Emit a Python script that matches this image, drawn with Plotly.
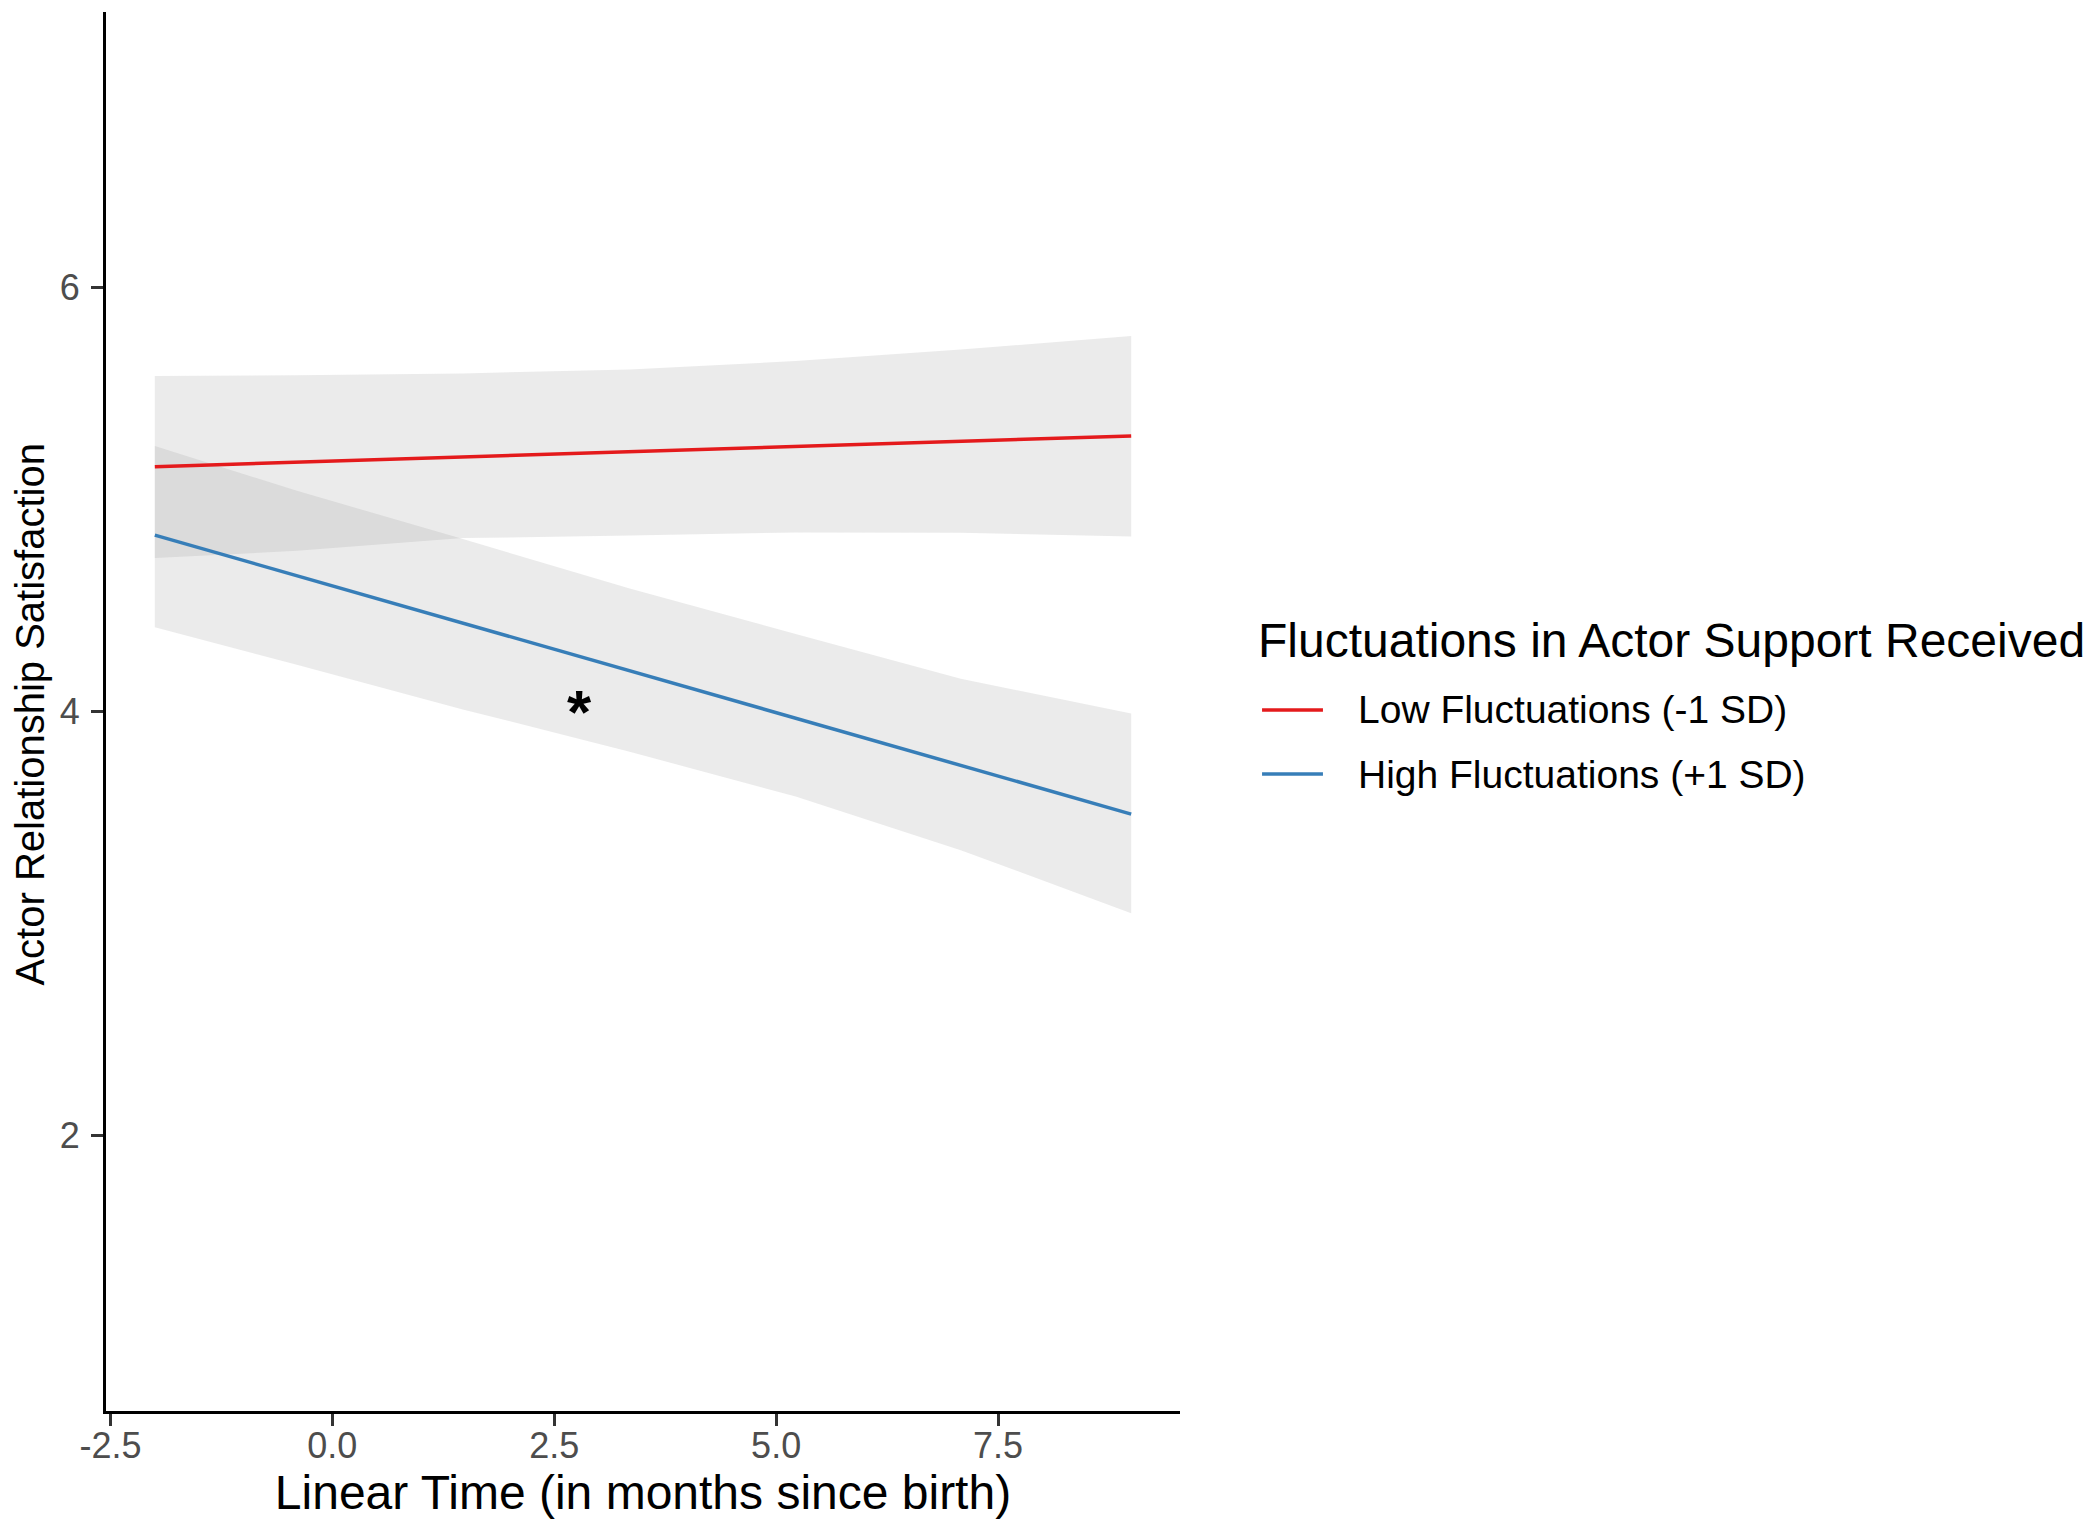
import plotly.graph_objects as go

# data
x_fit = [-2, 9]
low_fit = [5.155, 5.30]
high_fit = [4.832, 3.516]

x_band = [-2, -0.4, 1.47, 3.35, 5.22, 7.08, 9]
low_upper = [5.583, 5.586, 5.595, 5.614, 5.653, 5.708, 5.771]
low_lower = [4.724, 4.758, 4.818, 4.830, 4.845, 4.843, 4.826]
high_upper = [5.253, 5.041, 4.814, 4.580, 4.366, 4.155, 3.990]
high_lower = [4.398, 4.220, 4.010, 3.810, 3.599, 3.346, 3.048]

labels = ["Low Fluctuations (-1 SD)", "High Fluctuations (+1 SD)"]
colors = ["#E41A1C", "#377EB8"]
legend_title = "Fluctuations in Actor Support Received"

x_ticks = [-2.5, 0.0, 2.5, 5.0, 7.5]
x_ticktext = ["-2.5", "0.0", "2.5", "5.0", "7.5"]
y_ticks = [2, 4, 6]

star_x, star_y = 2.79, 4.05

font = "Liberation Sans, Arial, sans-serif"
band_fill = "rgba(153,153,153,0.2)"

fig = go.Figure()

for up, lo in [(low_upper, low_lower), (high_upper, high_lower)]:
    fig.add_trace(go.Scatter(
        x=x_band + x_band[::-1], y=up + lo[::-1],
        fill="toself", fillcolor=band_fill, mode="none",
        showlegend=False, hoverinfo="skip"))

for y, name, c in [(low_fit, labels[0], colors[0]), (high_fit, labels[1], colors[1])]:
    fig.add_trace(go.Scatter(x=x_fit, y=y, mode="lines", name=name,
                             line=dict(color=c, width=3.5), showlegend=False))

fig.add_annotation(x=star_x, y=star_y, text="<b>*</b>", showarrow=False,
                   font=dict(size=62, color="black", family=font), yshift=-11)

# y title as an annotation so it can sit closer to the edge
fig.add_annotation(xref="paper", yref="paper", x=-0.0705, y=0.498,
                   text="Actor Relationship Satisfaction", textangle=-90,
                   showarrow=False, xanchor="center", yanchor="middle",
                   font=dict(size=40, color="black", family=font))

# legend drawn by hand so the spacing matches the ggplot guide
fig.add_annotation(xref="paper", yref="paper", x=1.0708, y=0.5511, text=legend_title,
                   showarrow=False, xanchor="left", yanchor="middle",
                   font=dict(size=48, color="black", family=font))
for i, (name, c) in enumerate(zip(labels, colors)):
    ly = 0.5011 - i * 0.0458
    fig.add_shape(type="line", xref="paper", yref="paper", x0=1.0764, x1=1.1331,
                  y0=ly, y1=ly, line=dict(color=c, width=3.5))
    fig.add_annotation(xref="paper", yref="paper", x=1.1639, y=ly, text=name,
                       showarrow=False, xanchor="left", yanchor="middle",
                       font=dict(size=39, color="black", family=font))

axis_common = dict(showgrid=False, zeroline=False, showline=True, linecolor="black",
                   linewidth=3, ticks="outside", ticklen=12, tickwidth=3,
                   tickcolor="#333333", automargin=False,
                   tickfont=dict(size=36, color="#4D4D4D", family=font))

fig.update_xaxes(range=[-2.55, 9.55], tickvals=x_ticks, ticktext=x_ticktext,
                 ticklabelstandoff=-11,
                 title=dict(text="Linear Time (in months since birth)",
                            font=dict(size=48, color="black", family=font), standoff=0),
                 **axis_common)
fig.update_yaxes(range=[0.7, 7.3], tickvals=y_ticks, ticklabelstandoff=4,
                 **axis_common)

# the page body adds 8px, so margins are offset to keep the plot box in place
fig.update_layout(
    width=2100, height=1521,
    margin=dict(l=98, r=928, t=4, b=118),
    plot_bgcolor="white", paper_bgcolor="white",
    showlegend=False,
)

fig.write_html("out.html")
